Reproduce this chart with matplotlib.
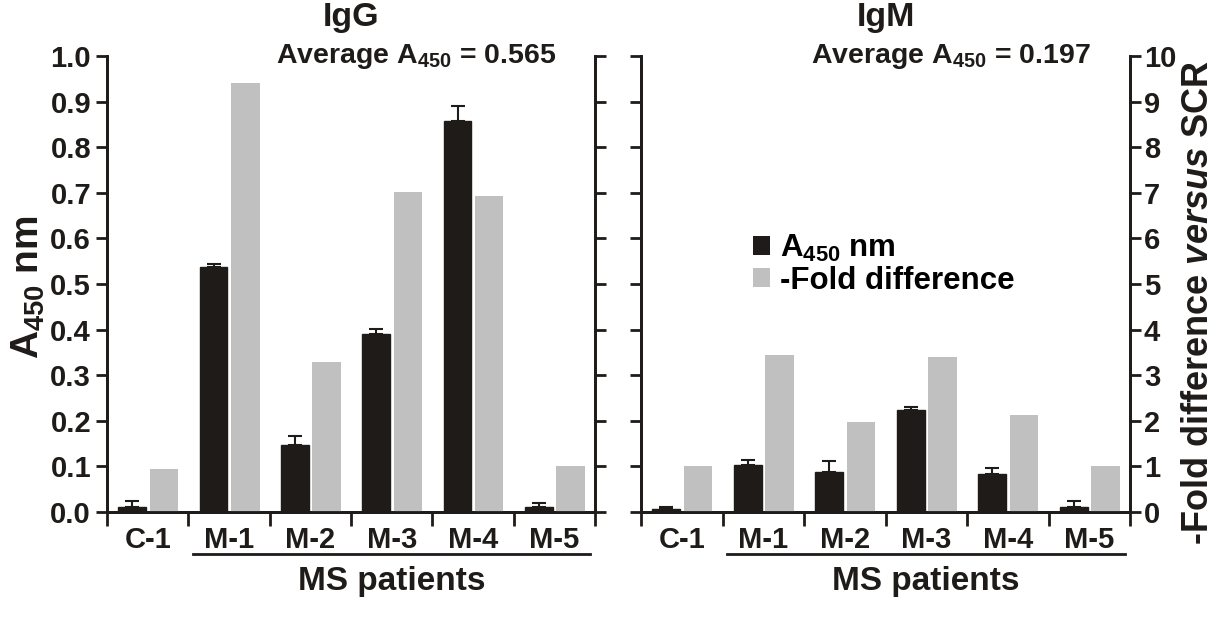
import matplotlib
matplotlib.use("Agg")
import matplotlib.pyplot as plt
import matplotlib.transforms as mtransforms
from matplotlib.patches import Patch
import numpy as np

# --- フォント設定 ---
plt.rcParams['font.family'] = 'Liberation Sans'
plt.rcParams['font.weight'] = 'bold'
plt.rcParams['mathtext.fontset'] = 'custom'
plt.rcParams['mathtext.rm'] = 'Liberation Sans:bold'
plt.rcParams['mathtext.bf'] = 'Liberation Sans:bold'
plt.rcParams['mathtext.it'] = 'Liberation Sans:italic:bold'

# --- データ ---
samples = ["C-1", "M-1", "M-2", "M-3", "M-4", "M-5"]

igg_a450 = [0.010, 0.537, 0.148, 0.390, 0.858, 0.010]
igg_err = [0.015, 0.007, 0.019, 0.011, 0.032, 0.009]
igg_fold = [0.95, 9.40, 3.30, 7.02, 6.92, 1.00]

igm_a450 = [0.006, 0.104, 0.088, 0.223, 0.083, 0.011]
igm_err = [0.005, 0.010, 0.023, 0.008, 0.013, 0.013]
igm_fold = [1.00, 3.45, 1.98, 3.40, 2.12, 1.00]

titles = ["IgG", "IgM"]
averages = ["0.565", "0.197"]

BLACK = '#1e1b19'
GRAY = '#c0c0c0'

fig = plt.figure(figsize=(12.22, 6.28), dpi=100)
ax_l = fig.add_axes([107/1222, 116/628, 488/1222, 456/628])
ax_r = fig.add_axes([641/1222, 116/628, 489/1222, 456/628])


def draw_panel(ax, a450, err, fold, title, avg, left_labels):
    x = np.arange(len(samples))
    ax2 = ax.twinx()

    ax.bar(x - 0.19, a450, 0.34, color=BLACK, edgecolor=BLACK,
           yerr=[np.zeros(len(err)), err],
           error_kw=dict(ecolor=BLACK, elinewidth=1.5, capsize=5, capthick=1.5))
    ax2.bar(x + 0.20, fold, 0.35, color=GRAY)

    ax.set_xlim(-0.5, 5.5)
    ax.set_ylim(0, 1.0)
    ax2.set_ylim(0, 10)

    for a in (ax, ax2):
        a.spines['top'].set_visible(False)
        for s in ('left', 'right', 'bottom'):
            a.spines[s].set_linewidth(2)
            a.spines[s].set_color(BLACK)

    ax.set_yticks(np.arange(0, 1.01, 0.1))
    ax.set_yticklabels([f"{v:.1f}" for v in np.arange(0, 1.01, 0.1)])
    ax2.set_yticks(np.arange(0, 11, 1))
    ax.tick_params(axis='y', length=8, width=2, direction='out', labelsize=21,
                   labelleft=left_labels, colors=BLACK)
    ax2.tick_params(axis='y', length=8, width=2, direction='out', labelsize=21,
                    labelright=not left_labels, colors=BLACK, pad=2)

    # カテゴリ区切りの目盛り
    ax.set_xticks(x)
    ax.set_xticklabels(samples)
    ax.set_xticks(np.arange(-0.5, 6, 1), minor=True)
    ax.tick_params(axis='x', which='major', length=0, labelsize=21, pad=10, colors=BLACK)
    ax.tick_params(axis='x', which='minor', length=10, width=2, direction='out', color=BLACK)

    trans = mtransforms.blended_transform_factory(ax.transData, ax.transAxes)
    ax.plot([0.56, 5.44], [-0.093, -0.093], color=BLACK, lw=2,
            transform=trans, clip_on=False)
    ax.text(3.0, -0.152, "MS patients", transform=trans, ha='center', va='center',
            fontsize=24, color=BLACK)

    ax.text(0.5, 1.118, title, transform=ax.transAxes, ha='center', va='top',
            fontsize=24.5, color=BLACK)
    ax.text(0.633, 1.0, "Average A$_{450}$ = " + avg, transform=ax.transAxes,
            ha='center', va='center', fontsize=20.5, color=BLACK)
    return ax2


draw_panel(ax_l, igg_a450, igg_err, igg_fold, titles[0], averages[0], True)
draw_panel(ax_r, igm_a450, igm_err, igm_fold, titles[1], averages[1], False)

handles = [Patch(facecolor=BLACK), Patch(facecolor=GRAY)]
ax_r.legend(handles, ["A$_{450}$ nm", "-Fold difference"], loc='upper left',
            bbox_to_anchor=(0.229, 0.612), frameon=False, fontsize=22.5,
            handlelength=0.55, handleheight=0.55, handletextpad=0.3,
            labelspacing=0.05, borderaxespad=0, borderpad=0)

fig.text(28/1222, 1 - 287/628, "A$_{450}$ nm", rotation=90, ha='center', va='center',
         fontsize=28, color=BLACK)
fig.text(1198/1222, 1 - 303/628, r"-Fold difference $\mathit{versus}$ SCR", rotation=90,
         ha='center', va='center', fontsize=26, color=BLACK)

fig.savefig("out.png", dpi=100)
